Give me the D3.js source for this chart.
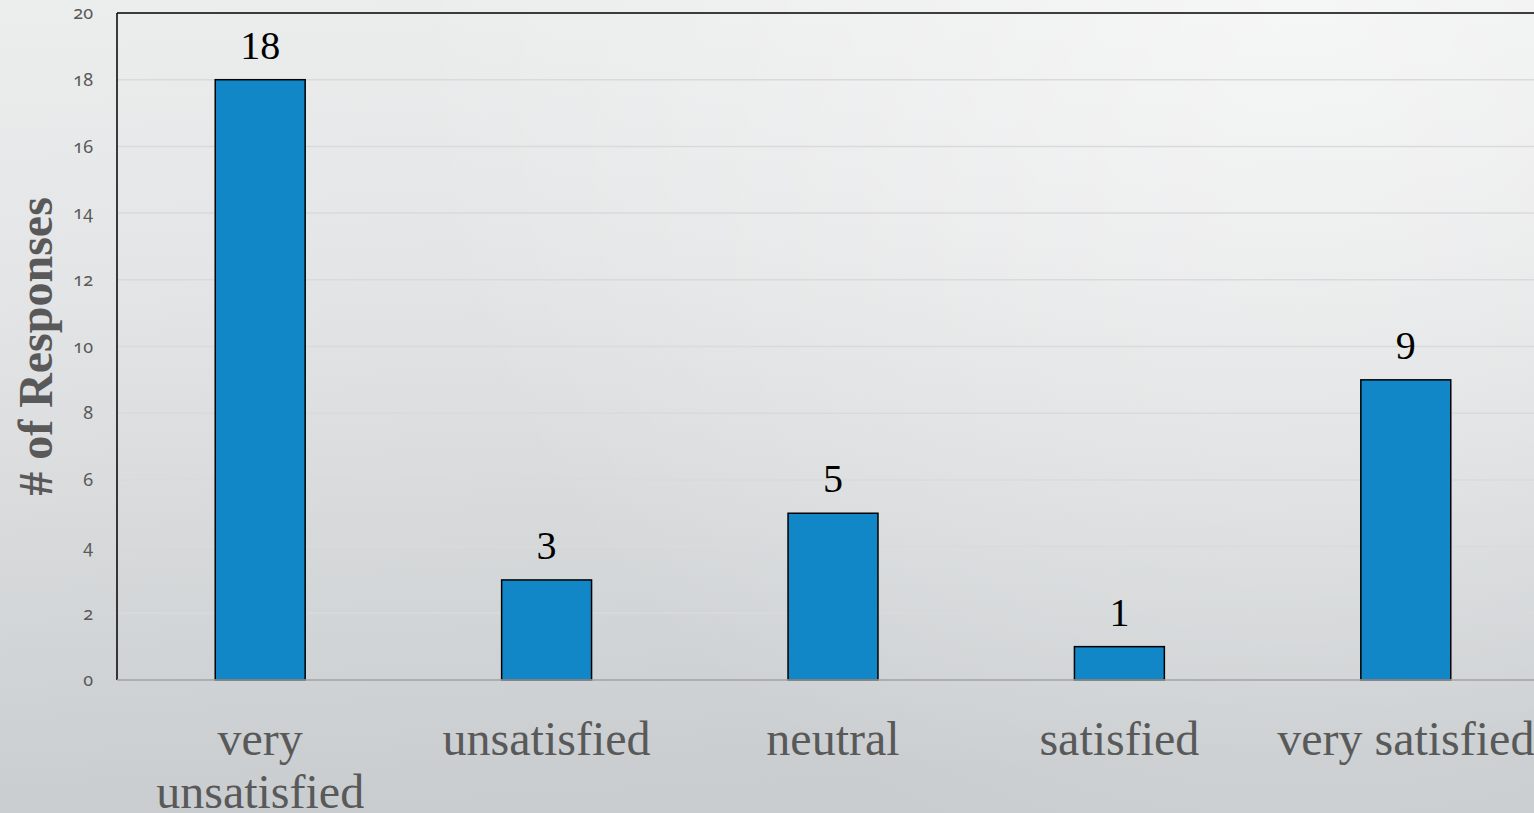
<!DOCTYPE html>
<html>
<head>
<meta charset="utf-8">
<script src="https://cdn.jsdelivr.net/npm/d3@7"></script>
<style>
  html, body { margin: 0; padding: 0; overflow: hidden; }
  #vis_container { width: 1534px; height: 813px; }
  .tick text { font-variant-numeric: oldstyle-nums; }
</style>
</head>
<body>
<div id="vis_container"></div>
<script>
var categories = [["very", "unsatisfied"], ["unsatisfied"], ["neutral"], ["satisfied"], ["very satisfied"]];
var responses = [18, 3, 5, 1, 9];
var yTicks = [0, 2, 4, 6, 8, 10, 12, 14, 16, 18, 20];

var chart = {};
chart.width = 1534;
chart.height = 813;
chart.plot = {"left": 117, "right": 1549, "top": 13, "bottom": 680};

chart.svg = d3.select("#vis_container").append("svg")
	.attr("width", chart.width)
	.attr("height", chart.height);

// background: light at the top, grey towards the bottom, a soft glow top right
var defs = chart.svg.append("defs");
var lin = defs.append("linearGradient")
	.attr("id", "bg")
	.attr("x1", 0).attr("y1", 0)
	.attr("x2", 0.1).attr("y2", 1);
lin.append("stop").attr("offset", "0%").attr("stop-color", "#eceded");
lin.append("stop").attr("offset", "35%").attr("stop-color", "#e4e5e6");
lin.append("stop").attr("offset", "100%").attr("stop-color", "#c9cdcf");

var glow = defs.append("radialGradient")
	.attr("id", "glow")
	.attr("gradientUnits", "userSpaceOnUse")
	.attr("cx", 1300).attr("cy", 0)
	.attr("r", 900);
glow.append("stop").attr("offset", "0%").attr("stop-color", "#ffffff").attr("stop-opacity", 0.55);
glow.append("stop").attr("offset", "100%").attr("stop-color", "#ffffff").attr("stop-opacity", 0);

chart.svg.append("rect")
	.attr("width", chart.width)
	.attr("height", chart.height)
	.attr("fill", "url(#bg)");
chart.svg.append("rect")
	.attr("width", chart.width)
	.attr("height", chart.height)
	.attr("fill", "url(#glow)");

var labels = categories.map(function(c) { return c.join(" "); });

chart.x = d3.scaleBand()
	.domain(labels)
	.range([chart.plot.left, chart.plot.right])
	.paddingInner(0.686)
	.paddingOuter(0.343);

chart.y = d3.scaleLinear()
	.domain([0, 20])
	.range([chart.plot.bottom, chart.plot.top]);

// gridlines
chart.svg.append("g")
	.selectAll("line")
	.data(yTicks.slice(1, -1))
	.enter().append("line")
	.attr("x1", chart.plot.left)
	.attr("x2", chart.plot.right)
	.attr("y1", function(d) { return chart.y(d); })
	.attr("y2", function(d) { return chart.y(d); })
	.attr("stroke", "#d9dadb")
	.attr("stroke-width", 1.5);

// y axis tick labels
var yAxis = chart.svg.append("g")
	.attr("transform", "translate(" + (chart.plot.left - 24) + ",0)")
	.call(d3.axisLeft(chart.y).tickValues(yTicks).tickSize(0).tickPadding(0));
yAxis.select(".domain").remove();
yAxis.selectAll("text")
	.attr("font-family", "'Noto Sans', sans-serif")
	.attr("font-size", 18)
	.attr("fill", "#595959");

// frame: black top and left, grey baseline
chart.svg.append("line")
	.attr("x1", chart.plot.left).attr("x2", chart.plot.right)
	.attr("y1", chart.plot.top).attr("y2", chart.plot.top)
	.attr("stroke", "#000").attr("stroke-width", 1.5);
chart.svg.append("line")
	.attr("x1", chart.plot.left).attr("x2", chart.plot.left)
	.attr("y1", chart.plot.top).attr("y2", chart.plot.bottom)
	.attr("stroke", "#000").attr("stroke-width", 1.5);

// bars
chart.svg.append("g")
	.selectAll("rect")
	.data(responses)
	.enter().append("rect")
	.attr("x", function(d, i) { return chart.x(labels[i]); })
	.attr("y", function(d) { return chart.y(d); })
	.attr("width", chart.x.bandwidth())
	.attr("height", function(d) { return chart.y(0) - chart.y(d); })
	.attr("fill", "#1287c7")
	.attr("stroke", "#000")
	.attr("stroke-width", 1.5);

chart.svg.append("line")
	.attr("x1", chart.plot.left).attr("x2", chart.plot.right)
	.attr("y1", chart.plot.bottom).attr("y2", chart.plot.bottom)
	.attr("stroke", "#a0a2a4").attr("stroke-width", 1.5);

// value labels
chart.svg.append("g")
	.selectAll("text")
	.data(responses)
	.enter().append("text")
	.attr("x", function(d, i) { return chart.x(labels[i]) + chart.x.bandwidth() / 2; })
	.attr("y", function(d) { return chart.y(d) - 21; })
	.attr("text-anchor", "middle")
	.attr("font-family", "'Liberation Serif', 'Times New Roman', serif")
	.attr("font-size", 40)
	.attr("fill", "#000")
	.text(function(d) { return d; });

// category labels
var cat = chart.svg.append("g")
	.selectAll("text")
	.data(categories)
	.enter().append("text")
	.attr("x", function(d, i) { return chart.x(labels[i]) + chart.x.bandwidth() / 2; })
	.attr("y", 755)
	.attr("text-anchor", "middle")
	.attr("font-family", "'Liberation Serif', 'Times New Roman', serif")
	.attr("font-size", 48)
	.attr("fill", "#595959");
cat.selectAll("tspan")
	.data(function(d) { return d; })
	.enter().append("tspan")
	.attr("x", function() { return this.parentNode.getAttribute("x"); })
	.attr("dy", function(d, i) { return i == 0 ? 0 : 53; })
	.text(function(d) { return d; });

// y axis title
chart.svg.append("text")
	.attr("transform", "translate(52," + (chart.plot.top + chart.plot.bottom) / 2 + ") rotate(-90)")
	.attr("text-anchor", "middle")
	.attr("font-family", "'Liberation Serif', 'Times New Roman', serif")
	.attr("font-weight", "bold")
	.attr("font-size", 48)
	.attr("fill", "#595959")
	.text("# of Responses");
</script>
</body>
</html>
